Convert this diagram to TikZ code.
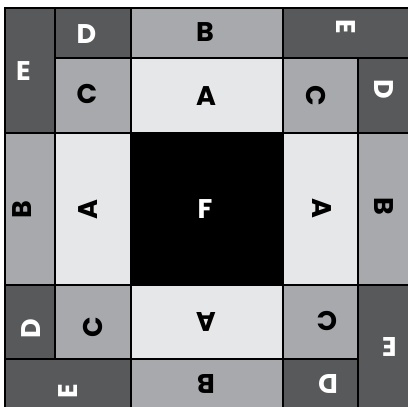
\documentclass[tikz,border=0pt]{standalone}
\usepackage{fontspec}
\setmainfont{Poppins}
\definecolor{dgray}{HTML}{58595B}
\definecolor{mgray}{HTML}{A7A9AC}
\definecolor{lgray}{HTML}{E6E7E8}
\newcommand\cellq[9]{%
  \path[#1] (#2,#3) rectangle (#4,#5);
  \node[#1l, rotate=#8] (#6) at (#7) {#9};}
\begin{document}
\begin{tikzpicture}[x=1pt,y=-1pt,
  cellbase/.style={draw=black,line width=1.2pt},
  dk/.style={cellbase,fill=dgray},
  md/.style={cellbase,fill=mgray},
  lt/.style={cellbase,fill=lgray},
  bk/.style={cellbase,fill=black},
  lbl/.style={inner sep=0pt,font=\fontsize{27}{27}\selectfont\bfseries},
  dkl/.style={lbl,text=white},
  mdl/.style={lbl,text=black},
  ltl/.style={lbl,text=black},
  bkl/.style={lbl,text=white}]
\useasboundingbox (0,0) rectangle (408,407);
\clip (0,0) rectangle (408,407);
% top-left quadrant
\cellq{dk}{5}{8}{55}{133}{e1}{23.5,71.5}{0}{E}
\cellq{dk}{55}{8}{131}{58}{d1}{86.5,34}{0}{D}
\cellq{md}{55}{58}{131}{133}{c1}{87,94}{0}{C}
\cellq{md}{131}{8}{283}{58}{b1}{205,32.5}{0}{B}
\cellq{lt}{131}{58}{283}{133}{a1}{206,95.7}{0}{A}
% top-right quadrant
\cellq{dk}{283}{8}{410}{58}{e2}{346,26.7}{-90}{E}
\cellq{dk}{358}{58}{410}{133}{d2}{383.5,89}{-90}{D}
\cellq{md}{283}{58}{358}{133}{c2}{316,96}{-90}{C}
\cellq{md}{358}{133}{410}{285}{b2}{383.7,206.7}{-90}{B}
\cellq{lt}{283}{133}{358}{285}{a2}{322,208.7}{-90}{A}
% bottom-right quadrant
\cellq{dk}{358}{285}{410}{412}{e3}{389.3,347}{180}{E}
\cellq{dk}{283}{359}{358}{412}{d3}{328,384}{180}{D}
\cellq{md}{283}{285}{358}{359}{c3}{326.8,321.5}{180}{C}
\cellq{md}{131}{359}{283}{412}{b3}{206,384}{180}{B}
\cellq{lt}{131}{285}{283}{359}{a3}{206,322}{180}{A}
% bottom-left quadrant
\cellq{dk}{5}{359}{131}{412}{e4}{68.3,391}{90}{E}
\cellq{dk}{5}{285}{55}{359}{d4}{30.7,328.7}{90}{D}
\cellq{md}{55}{285}{131}{359}{c4}{93.3,327.7}{90}{C}
\cellq{md}{5}{133}{55}{285}{b4}{22,210}{90}{B}
\cellq{lt}{55}{133}{131}{285}{a4}{88,210}{90}{A}
% centre
\cellq{bk}{131}{133}{283}{285}{f}{205,209}{0}{F}
\end{tikzpicture}
\end{document}
